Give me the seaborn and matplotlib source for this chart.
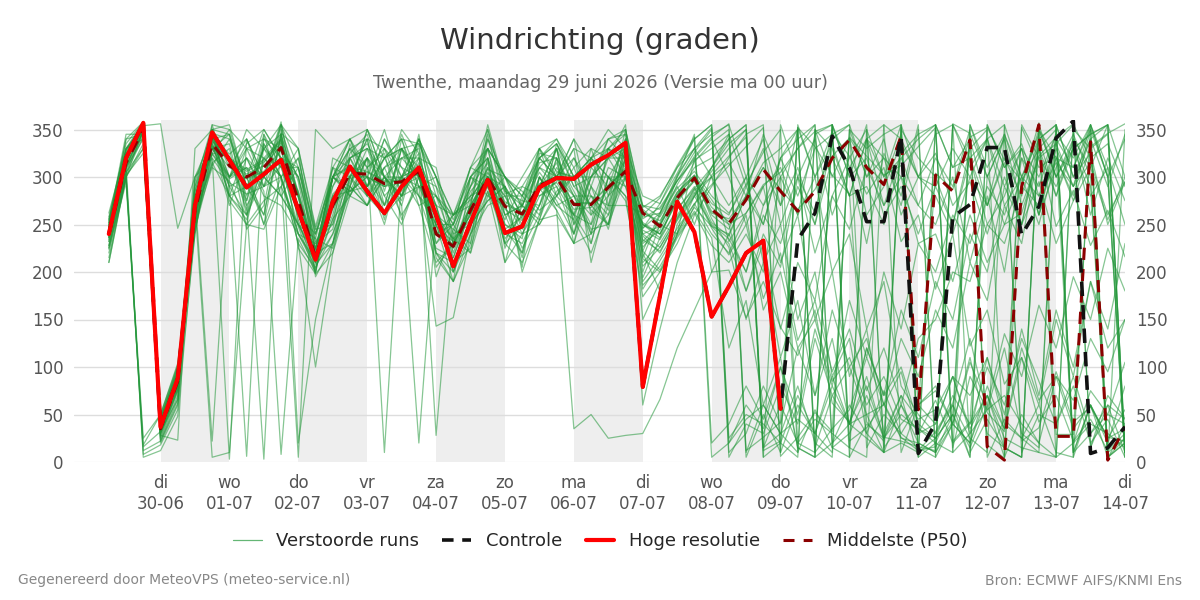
import numpy as np
import pandas as pd
import matplotlib
matplotlib.use("Agg")
import matplotlib.pyplot as plt
import seaborn as sns
from matplotlib.lines import Line2D

# tijdstappen: 29-06 06:00 t/m 14-07 00:00, elke 6 uur (dagen sinds 29-06 00:00)
t = [0.25 + 0.25 * i for i in range(60)]

dagen = ["di", "wo", "do", "vr", "za", "zo", "ma", "di", "wo", "do", "vr", "za", "zo", "ma", "di"]
datums = ["30-06", "01-07", "02-07", "03-07", "04-07", "05-07", "06-07", "07-07",
          "08-07", "09-07", "10-07", "11-07", "12-07", "13-07", "14-07"]

hoge_resolutie = [240, 320, 357, 37, 88, 270, 347, 318, 289, 303, 318, 265, 213, 274, 311, 285,
                  262, 290, 310, 260, 206, 252, 297, 241, 248, 289, 299, 298, 313, 323, 336, 79,
                  175, 274, 242, 153, 185, 220, 233, 56]

controle = [240, 320, 357, 37, 88, 270, 347, 318, 289, 303, 318, 265, 213, 274, 311, 285,
            262, 290, 310, 260, 206, 252, 297, 241, 248, 289, 299, 298, 313, 323, 336, 79,
            175, 274, 242, 153, 185, 220, 233, 56, 234, 262, 343, 310, 253, 253, 343, 9,
            41, 258, 271, 331, 331, 239, 269, 341, 359, 9, 15, 37]

mediaan = [240, 315, 350, 35, 85, 265, 335, 312, 300, 310, 331, 275, 216, 270, 304, 303,
           293, 295, 306, 240, 227, 265, 299, 269, 261, 291, 299, 271, 271, 289, 306, 262,
           248, 278, 299, 266, 251, 276, 308, 285, 264, 285, 320, 339, 310, 292, 343, 55,
           302, 285, 339, 16, 2, 290, 355, 27, 27, 337, 2, 37]

# verstoorde runs (ensembleleden), per rij 60 waarden
leden_txt = [
    "242 318 352 32 82 268 338 316 303 312 333 278 218 272 306 305 295 297 308 242 229 267 301 271 263 293 301 273 273 291 308 264 250 280 301 268 253 278 310 287 266 287 322 341 312 294 345 57 304 287 341 18 4 292 357 29 29 339 4 39",
    "215 300 330 45 100 245 315 280 260 335 300 240 205 240 290 330 320 340 290 270 200 240 285 240 230 270 320 250 300 320 290 220 180 250 280 300 232 262 292 305 330 348 355 22 36 62 26 12 16 42 342 352 318 296 330 248 286 228 265 216",
    "258 335 358 20 60 290 355 350 330 290 355 310 240 300 330 340 270 330 335 290 255 300 330 300 280 320 335 300 240 260 330 200 250 240 320 200 202 152 190 142 112 160 62 42 80 26 22 16 12 356 346 300 342 22 36 95 42 58 26 22",
    "228 300 12 22 62 240 345 280 255 320 300 240 230 245 320 280 310 270 335 220 200 275 310 245 220 300 275 240 290 265 335 215 260 290 250 302 322 342 12 22 352 332 302 282 42 22 352 12 32 62 130 52 32 352 310 322 275 332 346 356",
    "224 294 16 32 66 262 312 340 300 260 345 225 198 300 285 320 255 340 280 260 245 230 350 285 270 255 305 300 230 300 275 182 212 242 272 292 312 332 352 6 26 52 32 342 322 302 312 332 352 22 42 302 250 262 322 342 356 16 70 46",
    "248 340 345 46 96 282 22 300 335 350 320 300 232 250 335 290 320 285 315 215 190 300 290 230 280 310 330 260 250 330 345 232 252 292 322 342 356 12 26 42 352 300 346 322 282 310 232 260 182 240 122 160 82 110 42 70 22 45 12 30",
    "232 305 8 18 55 295 350 275 250 245 290 320 235 225 290 350 300 260 290 300 240 250 275 290 205 325 320 230 290 245 320 246 262 300 330 352 20 45 60 30 10 350 330 280 290 250 320 340 355 10 30 55 70 40 20 5 350 330 345 20",
    "238 312 5 12 48 248 330 300 320 280 270 240 212 300 280 270 330 310 280 250 250 290 330 250 240 280 295 330 210 280 340 222 202 240 268 248 230 180 240 205 300 262 350 15 5 355 340 300 280 240 300 270 320 280 340 355 10 60 20 80",
    "246 322 354 356 246 300 342 320 308 318 338 282 215 260 325 345 285 345 300 270 205 245 340 300 255 310 290 240 320 270 350 250 240 276 296 262 256 280 315 330 350 10 35 55 110 60 130 90 160 120 210 170 270 230 330 350 20 75 50 105",
    "236 312 348 28 23 330 350 345 275 345 310 260 225 300 290 270 300 280 340 260 235 220 320 225 270 305 280 310 265 250 320 270 258 288 306 280 262 292 326 350 20 45 30 15 340 320 300 270 250 300 210 280 200 320 260 340 310 355 300 10",
    "244 318 350 36 86 270 5 10 250 335 300 330 195 230 320 330 280 300 325 195 245 285 305 280 280 260 335 290 300 300 290 250 236 266 288 248 240 200 270 300 330 355 20 40 25 10 350 320 300 250 320 270 345 300 345 5 20 40 30 15",
    "262 330 340 40 90 300 320 3 340 300 358 250 235 310 280 310 325 255 300 240 260 300 280 270 215 300 270 255 320 340 320 240 248 284 302 256 226 150 210 110 170 70 130 40 90 25 60 20 10 355 320 340 290 330 260 310 345 300 5 25",
    "220 305 330 34 84 250 355 290 6 345 280 310 245 250 300 280 260 330 270 280 230 300 320 210 275 270 310 280 245 250 330 230 244 280 310 320 340 355 15 30 45 30 10 350 330 345 355 5 20 60 25 10 355 300 340 280 330 345 355 10",
    "238 325 355 38 92 275 330 345 270 3 350 295 210 290 320 335 300 275 345 250 190 240 270 280 250 320 300 340 260 310 300 258 262 296 318 330 345 290 330 250 300 220 280 245 310 270 325 345 355 15 90 55 120 30 15 355 300 340 290 345",
    "210 300 335 42 94 245 325 300 320 285 8 235 200 300 285 290 340 300 280 225 215 265 300 235 260 290 315 255 220 270 270 262 254 284 302 276 250 180 230 140 210 170 280 320 350 15 40 60 80 40 110 30 15 5 350 300 340 260 320 275",
    "242 330 350 36 84 285 345 280 290 320 300 5 350 330 340 300 250 320 320 310 235 255 330 260 270 250 285 300 300 340 350 270 266 296 326 350 10 30 80 40 120 70 160 100 130 60 95 30 65 20 40 70 25 15 10 5 355 320 335 290",
    "255 320 352 34 80 260 315 330 245 270 355 20 150 230 290 270 310 330 290 250 210 250 290 250 235 330 280 320 280 260 300 206 226 256 282 306 330 350 5 20 70 30 80 40 50 10 20 10 355 310 320 250 280 330 300 345 10 30 50 40",
    "250 340 358 44 96 250 350 310 340 290 300 230 100 220 300 300 350 290 300 290 220 270 355 290 245 290 330 240 300 320 330 280 272 304 340 355 25 50 40 20 5 350 300 340 260 290 335 300 345 355 10 45 15 5 350 300 330 280 310 250",
    "238 305 348 30 78 260 340 290 300 350 320 285 212 240 295 320 10 300 310 240 250 220 280 300 285 265 280 300 320 300 280 252 240 274 296 260 245 290 250 320 280 330 345 355 300 340 260 300 290 330 300 340 355 10 50 40 80 20 45 5",
    "225 315 352 38 86 300 330 335 260 315 340 260 240 290 330 280 300 270 20 260 200 250 275 290 200 255 320 285 250 290 340 266 250 282 300 272 260 300 270 320 340 355 15 30 70 25 50 35 20 10 355 300 340 270 320 290 330 345 355 15",
    "252 345 345 42 90 240 345 300 310 290 330 300 225 300 310 300 290 350 325 28 240 300 320 260 270 310 300 260 330 280 300 250 240 276 298 264 250 262 290 310 260 300 200 240 140 190 80 50 30 60 5 355 310 335 280 315 290 340 355 10",
    "236 310 340 32 82 275 325 350 290 260 345 255 200 280 300 340 260 300 290 143 152 240 300 230 248 300 270 280 240 330 310 190 216 246 272 240 220 260 160 200 120 150 85 110 60 90 45 35 25 50 15 60 5 355 320 335 290 315 260 295",
    "242 300 350 40 88 266 336 280 330 340 320 240 210 255 320 290 340 310 300 255 235 290 315 245 258 288 265 35 50 25 28 30 66 120 160 200 240 280 310 270 350 5 20 60 30 75 30 15 5 355 310 340 270 300 250 320 280 350 5 20",
    "248 330 354 28 76 290 340 345 290 330 310 310 230 270 290 350 300 280 320 270 260 280 330 300 280 330 340 310 330 320 355 150 190 240 280 310 340 355 15 60 20 10 355 310 340 270 300 230 240 190 260 210 250 300 280 335 355 15 60 45",
    "232 304 342 46 98 256 350 320 270 300 280 250 215 310 300 270 300 300 270 210 230 260 320 270 225 260 300 280 280 250 340 60 140 210 260 290 320 345 355 10 60 30 90 40 120 70 100 40 25 50 5 355 310 330 260 330 290 355 10 25",
    "254 328 356 24 70 280 348 300 350 330 355 330 245 300 340 350 320 340 335 300 260 310 350 285 275 320 335 300 320 350 330 238 220 256 288 310 335 350 5 355 300 340 260 310 230 325 280 355 10 40 20 70 35 110 60 150 90 190 140 230",
    "226 298 25 50 102 252 310 296 250 275 290 250 220 230 285 300 260 280 310 220 190 230 300 230 210 255 260 230 240 300 300 210 230 260 286 300 315 280 345 300 10 55 15 5 350 300 320 270 320 290 350 5 45 25 60 10 5 355 300 340",
    "242 320 352 36 84 266 336 270 320 300 355 280 200 320 310 280 320 330 300 230 260 280 290 255 290 280 290 260 300 330 300 226 248 300 345 20 40 80 45 100 15 5 355 300 320 260 290 240 290 250 330 350 5 50 20 90 65 130 95 150",
    "246 310 354 42 92 272 325 322 265 340 330 300 222 300 330 310 270 300 340 280 250 310 300 290 260 315 320 280 260 280 320 240 226 258 284 246 218 250 172 220 128 170 95 140 75 120 60 130 150 200 190 250 230 290 270 320 310 350 300 5",
    "210 302 325 30 76 254 324 298 310 250 300 230 204 256 280 320 300 320 300 220 210 225 285 210 240 250 280 260 230 300 280 174 200 236 262 228 210 240 200 300 260 345 355 5 40 25 70 45 55 90 35 70 15 5 355 300 335 290 5 20",
    "256 330 358 22 66 284 350 355 290 300 346 330 248 310 340 310 330 300 340 300 260 270 345 270 300 330 300 320 290 340 345 246 272 310 340 355 5 40 30 80 40 130 70 100 50 60 25 20 10 50 355 310 345 290 350 320 5 60 25 35",
    "240 314 348 34 80 262 332 290 260 300 280 250 210 280 285 300 270 330 310 205 230 270 300 240 250 300 265 230 310 290 310 194 236 280 316 336 350 5 50 10 355 300 335 280 340 355 10 60 40 90 70 110 40 25 10 355 300 325 250 295",
    "234 308 344 48 100 260 330 320 300 250 345 280 208 230 300 320 280 250 300 260 225 280 300 280 240 270 330 250 280 270 320 222 262 302 330 300 270 300 210 250 150 200 90 130 30 10 355 300 325 270 295 240 300 250 330 280 340 310 355 300",
    "250 326 354 26 74 278 346 340 280 330 300 320 240 300 340 290 310 320 330 230 250 310 330 300 270 320 340 300 270 320 320 214 200 230 270 310 345 10 60 30 80 20 5 350 300 320 270 350 5 40 20 80 35 120 65 90 35 60 5 350",
    "244 318 350 38 88 270 338 318 306 316 336 280 220 276 310 306 296 300 310 248 232 270 304 274 262 292 300 272 272 290 308 234 222 254 280 250 235 200 260 230 290 250 340 355 15 50 30 60 75 40 105 60 135 90 165 120 195 150 225 180",
    "238 312 348 44 94 266 334 300 330 320 340 260 216 300 320 330 300 280 340 300 230 260 310 290 260 290 300 330 320 330 350 268 280 310 330 345 355 300 340 270 310 250 320 280 340 300 355 10 25 70 40 100 60 130 85 40 90 30 60 10",
    "228 300 18 50 104 250 320 294 282 290 312 248 198 220 280 320 290 300 320 270 215 270 300 260 220 290 330 290 270 250 300 186 206 238 264 236 120 170 60 110 15 5 355 300 355 10 60 30 40 90 30 110 50 140 70 160 100 190 120 150",
    "252 328 356 30 78 276 344 324 340 300 320 310 224 282 300 340 330 280 290 280 250 290 340 282 290 320 300 340 310 330 320 256 268 296 320 340 300 250 290 210 260 150 200 90 140 30 70 5 355 310 340 270 315 250 295 230 275 310 255 300",
    "236 310 346 36 84 262 332 310 298 306 328 270 214 266 302 300 290 294 304 240 226 262 296 266 254 286 294 266 268 286 304 244 234 266 290 252 238 280 250 320 350 15 70 40 120 70 160 110 190 150 240 200 290 250 340 355 10 60 25 55",
    "248 322 352 40 90 270 340 320 275 330 345 284 224 300 312 290 320 330 300 280 260 276 308 300 268 330 306 300 320 300 330 260 278 312 342 5 20 60 35 100 50 140 80 170 110 200 140 230 200 260 230 290 260 320 290 345 320 355 310 5",
]

leden = [[int(v) for v in r.split()] for r in leden_txt]
for r in leden:
    assert len(r) == len(t)

df_leden = pd.DataFrame([
    {"t": t[i], "graden": v, "lid": k}
    for k, r in enumerate(leden) for i, v in enumerate(r)
])
df_hres = pd.DataFrame({"t": t[:len(hoge_resolutie)], "graden": hoge_resolutie})
df_ctrl = pd.DataFrame({"t": t, "graden": controle})
df_med = pd.DataFrame({"t": t, "graden": mediaan})

sns.set_theme(style="white")
plt.rcParams["font.family"] = ["DejaVu Sans"]

groen = "#23973a"
fig = plt.figure(figsize=(12, 6), dpi=100)
ax = fig.add_axes([0.062, 0.23, 0.8755, 0.57])

# dagen om en om grijs
for d in range(1, 15, 2):
    ax.axvspan(d, d + 1, color="#eeeeee", lw=0, zorder=0)
for y in range(50, 351, 50):
    ax.axhline(y, color="#dddddd", lw=1, zorder=0.5)
ax.axhline(0, color="#f2f2f2", lw=1, zorder=0.5)

sns.lineplot(data=df_leden, x="t", y="graden", units="lid", estimator=None,
             color=groen, alpha=0.55, lw=0.9, ax=ax, legend=False, zorder=2)
sns.lineplot(data=df_med, x="t", y="graden", color="#8b0000", lw=2.2,
             ax=ax, legend=False, zorder=3).lines[-1].set_dashes([4, 3])
sns.lineplot(data=df_ctrl, x="t", y="graden", color="#111111", lw=2.6,
             ax=ax, legend=False, zorder=4).lines[-1].set_dashes([4, 2.5])
sns.lineplot(data=df_hres, x="t", y="graden", color="#ff0000", lw=3,
             ax=ax, legend=False, zorder=5)

ax.set_xlim(-0.25, 15)
ax.set_ylim(0, 360)
ax.set_xticks(range(1, 16))
ax.set_xticklabels([f"{d}\n{s}" for d, s in zip(dagen, datums)])
ax.set_yticks(range(0, 351, 50))
ax.tick_params(axis="x", length=6, width=1.6, color="#666666", labelsize=12,
               labelcolor="#555555", pad=3)
ax.tick_params(axis="y", length=0, labelsize=12, labelcolor="#555555",
               labelright=True, pad=8)
ax.set_xlabel("")
ax.set_ylabel("")
ax.grid(False)
for s in ax.spines.values():
    s.set_visible(False)

fig.text(0.5, 0.932, "Windrichting (graden)", ha="center", va="center",
         fontsize=21, color="#333333")
fig.text(0.5, 0.861, "Twenthe, maandag 29 juni 2026 (Versie ma 00 uur)",
         ha="center", va="center", fontsize=12.7, color="#666666")

handles = [
    Line2D([], [], color=groen, alpha=0.7, lw=0.9),
    Line2D([], [], color="#111111", lw=2.6, dashes=[3.2, 2.4]),
    Line2D([], [], color="#ff0000", lw=3),
    Line2D([], [], color="#8b0000", lw=2.2, dashes=[3.6, 3]),
]
fig.legend(handles, ["Verstoorde runs", "Controle", "Hoge resolutie", "Middelste (P50)"],
           loc="center", bbox_to_anchor=(0.5, 0.098), ncol=4, frameon=False,
           fontsize=13, handlelength=1.6, columnspacing=1.3, handletextpad=0.8)

fig.text(0.015, 0.033, "Gegenereerd door MeteoVPS (meteo-service.nl)", ha="left",
         va="center", fontsize=10, color="#888888")
fig.text(0.985, 0.033, "Bron: ECMWF AIFS/KNMI Ens", ha="right", va="center",
         fontsize=10, color="#888888")

fig.savefig("out.png", dpi=100)
